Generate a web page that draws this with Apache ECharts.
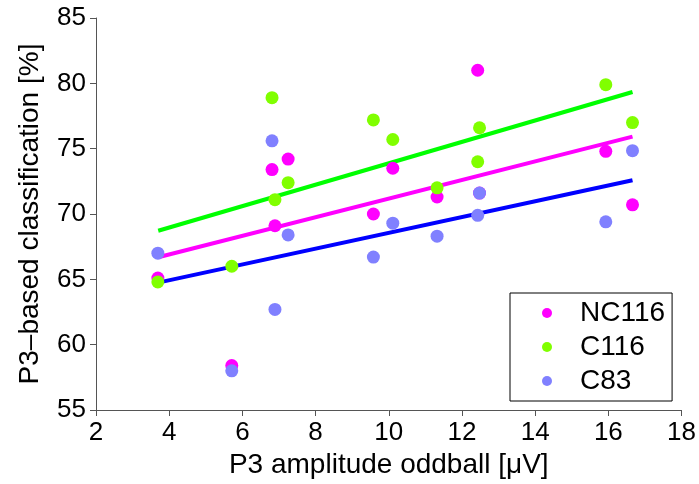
<!DOCTYPE html>
<html>
<head>
<meta charset="utf-8">
<script src="https://cdn.jsdelivr.net/npm/echarts@6/dist/echarts.min.js"></script>
<style>html,body{margin:0;padding:0;background:#fff}#c{width:699px;height:484px}</style>
</head>
<body>
<div id="c"></div>
<script>
var xValues = [3.69, 5.71, 6.81, 6.89, 7.25, 9.58, 10.11, 11.32, 12.43, 12.48, 15.93, 16.66];
var nc116 = [65.1, 58.4, 73.4, 69.1, 74.2, 70.0, 73.5, 71.3, 81.0, 71.6, 74.8, 70.7];
var c116 = [64.8, 66.0, 78.9, 71.1, 72.4, 77.2, 75.7, 72.0, 74.0, 76.6, 79.9, 77.0];
var c83 = [67.0, 58.0, 75.6, 62.7, 68.4, 66.7, 69.3, 68.3, 69.9, 71.6, 69.4, 74.85];
var fitX = [3.7, 16.66];
var fitNC116 = [66.69, 75.92];
var fitC116 = [68.72, 79.34];
var fitC83 = [64.75, 72.58];
var seriesNames = ['NC116', 'C116', 'C83'];

function pairs(xs, ys) { return xs.map(function (x, i) { return [x, ys[i]]; }); }

var chart = echarts.init(document.getElementById('c'), null, {renderer: 'canvas'});
var font = 'Liberation Sans, Arial, Helvetica, sans-serif';
var axisCol = '#555';
chart.setOption({
  animation: false,
  backgroundColor: '#fff',
  grid: {left: 96, right: 17, top: 18, bottom: 74, containLabel: false},
  xAxis: {
    type: 'value', min: 2, max: 18, interval: 2,
    name: 'P3 amplitude oddball [\u03bcV]', nameLocation: 'middle', nameGap: 38,
    nameTextStyle: {fontFamily: font, fontSize: 28, color: '#000'},
    axisLine: {show: true, onZero: false, lineStyle: {color: axisCol, width: 1}},
    axisTick: {show: true, inside: false, length: 6, lineStyle: {color: axisCol}},
    axisLabel: {fontFamily: font, fontSize: 26, color: '#000', margin: 10},
    splitLine: {show: false}
  },
  yAxis: {
    type: 'value', min: 55, max: 85, interval: 5,
    name: 'P3\u2013based classification [%]', nameLocation: 'middle', nameGap: 52,
    nameTextStyle: {fontFamily: font, fontSize: 28, color: '#000'},
    axisLine: {show: true, onZero: false, lineStyle: {color: axisCol, width: 1}},
    axisTick: {show: true, inside: false, length: 6, lineStyle: {color: axisCol}},
    axisLabel: {fontFamily: font, fontSize: 26, color: '#000', margin: 10},
    splitLine: {show: false}
  },
  legend: {
    data: seriesNames,
    orient: 'vertical',
    left: 510, top: 293,
    padding: [5, 7, 5, 32],
    itemWidth: 10, itemHeight: 10, itemGap: 4,
    icon: 'circle',
    borderColor: '#000', borderWidth: 1,
    textStyle: {fontFamily: font, fontSize: 28, color: '#000', lineHeight: 30, padding: [0, 0, 0, 23]}
  },
  series: [
    {name: 'fitNC116', type: 'line', data: pairs(fitX, fitNC116), symbol: 'none', silent: true,
     lineStyle: {color: '#ff00ff', width: 4}, z: 1},
    {name: 'fitC116', type: 'line', data: pairs(fitX, fitC116), symbol: 'none', silent: true,
     lineStyle: {color: '#00ff00', width: 4}, z: 1},
    {name: 'fitC83', type: 'line', data: pairs(fitX, fitC83), symbol: 'none', silent: true,
     lineStyle: {color: '#0000ff', width: 4}, z: 1},
    {name: 'NC116', type: 'scatter', data: pairs(xValues, nc116), symbol: 'circle', symbolSize: 13,
     itemStyle: {color: '#ff00ff', opacity: 1}, z: 2},
    {name: 'C116', type: 'scatter', data: pairs(xValues, c116), symbol: 'circle', symbolSize: 13,
     itemStyle: {color: '#80ff00', opacity: 1}, z: 3},
    {name: 'C83', type: 'scatter', data: pairs(xValues, c83), symbol: 'circle', symbolSize: 13,
     itemStyle: {color: '#8080ff', opacity: 1}, z: 4}
  ]
});
</script>
</body>
</html>
